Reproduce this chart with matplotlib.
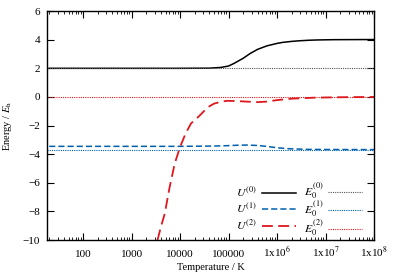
import numpy as np
import matplotlib
matplotlib.use("Agg")
import matplotlib.pyplot as plt
from matplotlib.ticker import LogLocator, NullFormatter

plt.rcParams['font.family'] = ['Liberation Serif', 'DejaVu Serif']
plt.rcParams['mathtext.fontset'] = 'stix'

# data
T_u0 = [20, 1e4, 4e4, 6.9e4, 1.0e5, 1.29e5, 2.0e5, 2.8e5, 4.0e5, 6.2e5, 1.0e6,
        1.3e6, 2.0e6, 2.8e6, 4.5e6, 6.7e6, 1.5e7, 1e8]
U0 = [2.0, 2.0, 2.01, 2.06, 2.16, 2.34, 2.70, 3.04, 3.33, 3.57, 3.74,
      3.81, 3.88, 3.92, 3.96, 3.98, 4.0, 4.01]

T_u1 = [20, 1e4, 5e4, 1e5, 1.6e5, 2.4e5, 4e5, 6e5, 1e6, 1.8e6, 4e6, 1e7, 1e8]
U1 = [-3.45, -3.45, -3.43, -3.40, -3.37, -3.36, -3.39, -3.45, -3.55, -3.62, -3.66, -3.67, -3.68]

T_u2 = [3420, 4000, 4830, 6000, 7750, 1.0e4, 1.3e4, 1.68e4, 2.2e4, 2.8e4, 3.7e4, 5e4,
        7e4, 9.4e4, 1.5e5, 2.5e5, 3.9e5, 6e5, 1.0e6, 2.0e6, 6e6, 2e7, 1e8]
U2 = [-10.0, -9.1, -8.15, -6.4, -4.65, -3.49, -2.55, -1.85, -1.5, -1.15, -0.72, -0.47,
      -0.33, -0.27, -0.29, -0.33, -0.36, -0.33, -0.22, -0.12, -0.05, -0.02, 0.0]

T_range = [18, 1e8]
E0 = [2.0, -3.73, 0.0]

xticks = [1e2, 1e3, 1e4, 1e5, 1e6, 1e7, 1e8]
xticklabels = ['100', '1000', '10000', '100000', r'1x10$^{6}$', r'1x10$^{7}$', r'1x10$^{8}$']
yticks = [-10, -8, -6, -4, -2, 0, 2, 4, 6]

blue = '#0060ad'
red = '#dd181f'

fig = plt.figure(figsize=(3.95, 2.76), dpi=100)
ax = fig.add_axes([0.119, 0.130, 0.828, 0.830])

u_lines = []
e_lines = []
u_lines += ax.plot(T_u0, U0, color='black', lw=1.1, label=r'$U^{(0)}$')
e_lines += ax.plot(T_range, [E0[0]] * 2, color='#555555', lw=0.8, ls=(0, (1, 1)), label=r'$E_0^{(0)}$')
u_lines += ax.plot(T_u1, U1, color=blue, lw=1.1, ls=(0, (4, 2)), label=r'$U^{(1)}$')
e_lines += ax.plot(T_range, [E0[1]] * 2, color=blue, lw=0.8, ls=(0, (1, 1)), label=r'$E_0^{(1)}$')
u_lines += ax.plot(T_u2, U2, color=red, lw=1.3, ls=(0, (6, 3)), label=r'$U^{(2)}$')
e_lines += ax.plot(T_range, [E0[2]] * 2, color=red, lw=0.8, ls=(0, (1, 1)), label=r'$E_0^{(2)}$')

ax.set_xscale('log')
ax.set_xlim(T_range)
ax.set_ylim(-10, 6)
ax.set_xticks(xticks)
ax.set_xticklabels(xticklabels)
ax.xaxis.set_minor_locator(LogLocator(base=10, subs=np.arange(2, 10), numticks=20))
ax.xaxis.set_minor_formatter(NullFormatter())
ax.set_yticks(yticks)

ax.tick_params(which='both', direction='in', top=True, right=True, labelsize=8)
ax.tick_params(axis='y', pad=5)
ax.tick_params(axis='x', pad=12)
for lbl in ax.get_xticklabels():
    lbl.set_verticalalignment('baseline')
ax.tick_params(which='major', length=5, width=0.8)
ax.tick_params(which='minor', length=2.5, width=0.6)
for s in ax.spines.values():
    s.set_linewidth(1.0)

ax.set_xlabel('Temperature / K', fontsize=7.5, labelpad=2)
ax.set_ylabel(r'Energy / $E_{\mathrm{h}}$', fontsize=7.5, labelpad=6)

# two legends (one per column) so the rows line up like gnuplot's key
leg_kw = dict(markerfirst=False, frameon=False, fontsize=8.5, handlelength=2.9,
              handletextpad=0.4, loc='center right')
leg1 = ax.legend(u_lines, [l.get_label() for l in u_lines], labelspacing=0.2,
                 bbox_to_anchor=(0.794, 0.135), **leg_kw)
ax.add_artist(leg1)
ax.legend(e_lines, [l.get_label() for l in e_lines], labelspacing=-0.15,
          bbox_to_anchor=(0.996, 0.135), **leg_kw)

fig.savefig('out.png', dpi=100)
